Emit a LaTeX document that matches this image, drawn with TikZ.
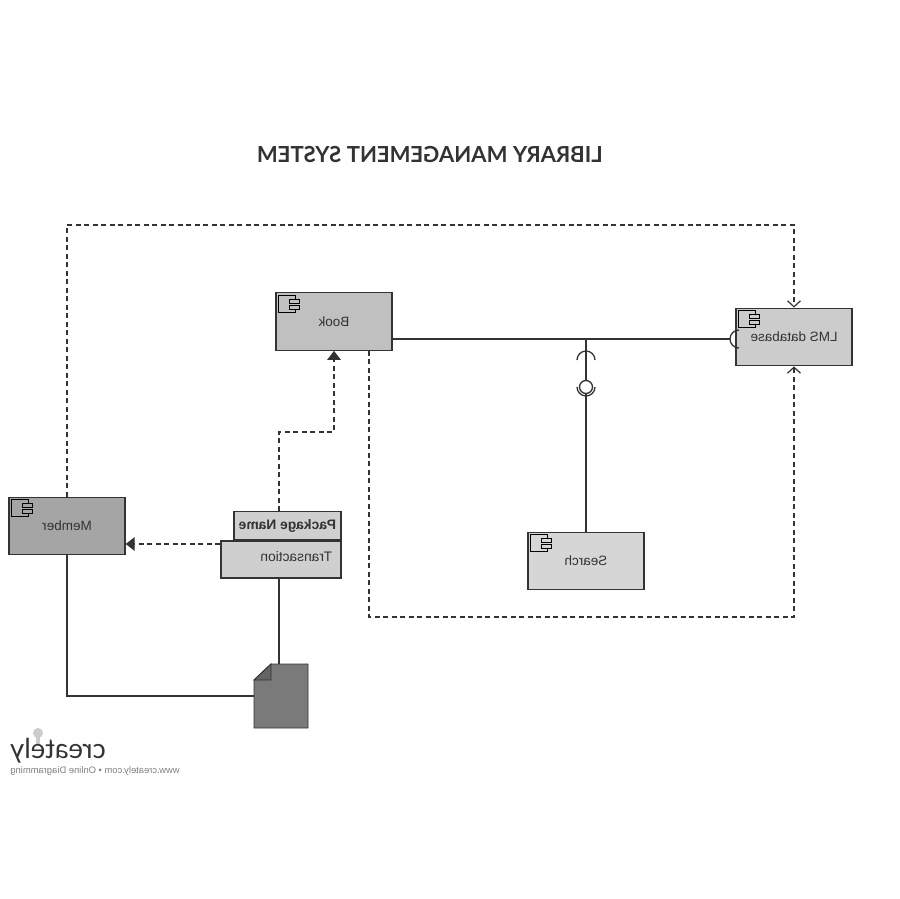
\documentclass[tikz,border=0pt]{standalone}
\usepackage{graphicx}
\usepackage{fontspec}
\setmainfont{Liberation Sans}
\newfontfamily\titlefont{Lato}
\usetikzlibrary{%
    arrows.meta,
    calc,
    positioning
}
\definecolor{inkgrey}{HTML}{333333}
\tikzset{
    openarrow/.style = {-{Straight Barb[length=6pt,width=13pt,line width=1.2pt]}},
    fullarrow/.style = {-{Triangle[length=9pt,width=13.5pt]}},
    dashline/.style = {line width=1.3pt, inkgrey, dash pattern=on 5pt off 3.5pt},
    solidline/.style = {line width=1.3pt, inkgrey},
    component/.style = {draw=inkgrey, line width=1.3pt, minimum width=116pt, minimum height=57.5pt,
        inner sep=0pt, text=inkgrey, font=\fontsize{13.5}{15}\selectfont},
    packagebox/.style = {draw=inkgrey, line width=1.3pt, fill={rgb,255:red,207;green,207;blue,207},
        text=inkgrey, font=\fontsize{13.8}{15}\selectfont}
}
% the little symbol in the corner of a component box
\newcommand{\compicon}[1]{%
    \draw[line width=1pt, black] ($(#1.north west)+(20,7)$) -- ++(0,-4) -- ++(-17,0) -- ++(0,17) -- ++(17,0) -- ++(0,-3);
    \draw[line width=1pt, black] ($(#1.north west)+(14,7)$) rectangle ++(10,4);
    \draw[line width=1pt, black] ($(#1.north west)+(14,13)$) rectangle ++(10,4);
}

\begin{document}
\begin{tikzpicture}[x=1pt, y=-1pt,
    point/.style = {minimum size=0pt, inner sep=0pt, outer sep=0pt}]
    \useasboundingbox[fill=white] (0,0) rectangle (900,899);

    \node[text=inkgrey, font=\titlefont\bfseries\fontsize{22.1}{25}\selectfont] (title) at (430,155)
        {\reflectbox{LIBRARY MANAGEMENT SYSTEM}};

    \node[component, fill={rgb,255:red,192;green,192;blue,192}] (book) at (334,321.5) {\raisebox{-1pt}{\reflectbox{Book}}};
    \node[component, fill={rgb,255:red,204;green,204;blue,204}] (lms) at (794,337) {\raisebox{-1.5pt}{\reflectbox{LMS database}}};
    \node[component, fill={rgb,255:red,165;green,165;blue,165}] (member) at (67,526) {\reflectbox{Member}};
    \node[component, fill={rgb,255:red,214;green,214;blue,214}] (search) at (586,561) {\raisebox{-1pt}{\reflectbox{Search}}};

    \compicon{book}
    \compicon{lms}
    \compicon{member}
    \compicon{search}

    \node[packagebox, inner xsep=9pt, inner ysep=0pt, minimum height=37pt, text width=102pt, align=right]
        (pkgbody) at (281,559.5) {\raisebox{5.5pt}{\reflectbox{Transaction}}};
    \node[packagebox, inner sep=0pt, minimum width=107pt, minimum height=28pt, anchor=south east]
        (pkgname) at (pkgbody.north east) {\bfseries\raisebox{-1pt}{\reflectbox{Package Name}}};

    % document shape
    \node[point, minimum width=54pt, minimum height=64pt] (doc) at (281,696) {};
    \coordinate (docfold) at ($(doc.north west)+(17,16)$);
    \fill[fill={rgb,255:red,122;green,122;blue,122}, draw=inkgrey, line width=.8pt]
        (doc.north east) -- (doc.south east) -- (doc.south west)
        -- ($(doc.north west)+(0,16)$) -- ($(doc.north west)+(17,0)$) -- cycle;
    \draw[draw=inkgrey, line width=.9pt, fill={rgb,255:red,100;green,100;blue,100}]
        ($(doc.north west)+(0,16)$) -- (docfold) -- ($(doc.north west)+(17,0)$) -- cycle;

    % dashed dependencies
    \coordinate (topleft) at (67,225);
    \coordinate (topright) at (794,225);
    \coordinate (lowleft) at (369,617);
    \coordinate (lowright) at (794,617);
    \coordinate (pkgbend) at (279,432);
    \coordinate (bookbend) at (334,432);
    \draw[dashline, openarrow] (member.north) -- (topleft) -- (topright) -- (lms.north);
    \draw[dashline, openarrow] (lowleft |- book.south) -- (lowleft) -- (lowright) -- (lms.south);
    \draw[dashline, fullarrow] (pkgbend |- pkgname.north) -- (pkgbend) -- (bookbend) -- (book.south);
    \draw[dashline, fullarrow] (pkgbody.west |- 0,544) -- (member.east |- 0,544);

    % solid links
    \coordinate (lmssocket) at (739,339);
    \coordinate (topsocket) at (586,360);
    \coordinate (searchball) at (586,387);
    \draw[solidline] (book.east |- lmssocket) -- ($(lmssocket)+(-9,0)$);
    \draw[solidline] ($(lmssocket)+(0,-9)$) arc[start angle=90, end angle=270, radius=9pt];
    \draw[solidline] (topsocket |- lmssocket) -- ($(searchball)+(0,-6.5)$);
    \draw[solidline] ($(topsocket)+(-9,0)$) arc[start angle=180, end angle=0, radius=9pt];
    \draw[solidline] (searchball) circle[radius=6.5pt];
    \draw[solidline] ($(searchball)+(-9,0)$) arc[start angle=180, end angle=360, radius=9pt];
    \draw[solidline] ($(searchball)+(0,6.5)$) -- (search.north);
    \coordinate (docjoin) at (67,696);
    \draw[solidline] (member.south) -- (docjoin) -- (doc.west);
    \draw[solidline] (pkgbend |- pkgbody.south) -- (pkgbend |- doc.north);

    % logo
    \fill[gray!40] (38,733) circle[radius=5pt];
    \fill[gray!40] (36,737) rectangle (40,745);
    \node[text=inkgrey, font=\titlefont\fontsize{27.5}{30}\selectfont] (logo) at (58,751) {\reflectbox{creately}};
    \node[text=gray, font=\fontsize{9.4}{10}\selectfont] (tagline) at (95,771) {\reflectbox{www.creately.com • Online Diagramming}};
\end{tikzpicture}
\end{document}
